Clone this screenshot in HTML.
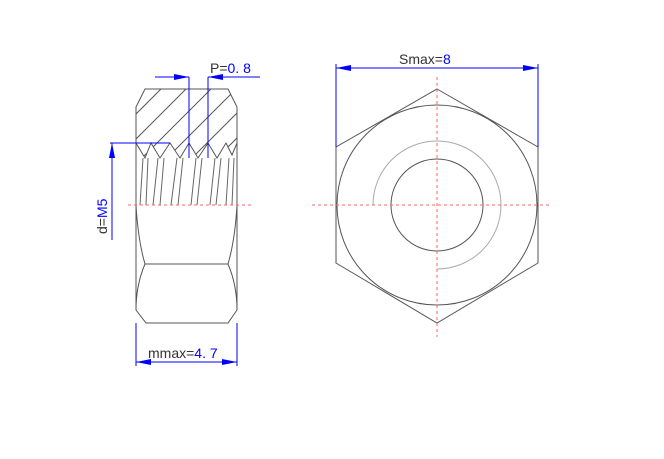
<!DOCTYPE html>
<html><head><style>body{margin:0;background:#fff}svg{display:block}</style></head><body>
<svg width="664" height="459" viewBox="0 0 664 459" xmlns="http://www.w3.org/2000/svg" font-family="Liberation Sans, sans-serif">
<defs>
<clipPath id="hc"><polygon points="145,89 228,89 237,107 237,143 232,155 226,143 217,158 208,143 198,158 189,143 180,158 170,143 160,158 151,143 145,158 136,143 136,107"/></clipPath>
<marker id="ar" viewBox="0 0 15 6" refX="15" refY="3" markerWidth="15" markerHeight="6" orient="auto-start-reverse" markerUnits="userSpaceOnUse"><path d="M0,0L15,3L0,6z" fill="#00f"/></marker>
</defs>
<g fill="none" stroke="#555" stroke-width="1">
<path d="M136,107 L145,89 L228,89 L237,107 L237,310 L228,323 L146,323 L136,310 Z"/>
<path d="M145,264 L228,264"/>
<path d="M136,205 Q138,240 145,264 Q136,285 136,310"/>
<path d="M237,205 Q235,240 228,264 Q237,285 237,310"/>
<g clip-path="url(#hc)" stroke="#555">
<path d="M120,130 L175,75 M120,155 L200,75 M135,165 L225,75 M160,165 L250,75 M185,165 L275,75 M210,165 L300,75"/>
</g>
<path d="M136,143 L145,158 L151,143 L160,158 L170,143 L180,158 L189,143 L198,158 L208,143 L217,158 L226,143 L232,155 L237,143"/>
<path d="M143,158 L140,205 M148,158 L146,205 M158,158 L153,205 M164,158 L160,205 M177,158 L171,205 M183,158 L178,205 M196,158 L191,205 M202,158 L197,205 M215,158 L210,205 M221,158 L216,205 M229,158 L226,205 M234,158 L232,205" stroke="#666"/>
<polygon points="437,89 538,147 538,263 437,323 336,263 336,147"/>
<circle cx="437" cy="205" r="100"/>
<circle cx="437" cy="205" r="46"/>
<path d="M373,205 A64,64 0 1 1 437,269" stroke="#aaa"/>
</g>
<g stroke="#f66" stroke-width="1" stroke-dasharray="3,3" fill="none">
<path d="M128,205 L252,205"/>
<path d="M312,205 L552,205 M437,77 L437,337"/>
</g>
<g stroke="#00f" stroke-width="1" fill="none">
<path d="M189,77 L189,158 M208,77 L208,158"/>
<path d="M155,77 L189,77" marker-end="url(#ar)"/>
<path d="M260,77 L208,77" marker-end="url(#ar)"/>
<path d="M110,143 L170,143"/>
<path d="M112,240 L112,143" marker-end="url(#ar)"/>
<path d="M136,323 L136,366 M237,323 L237,366"/>
<path d="M136,362 L237,362" marker-start="url(#ar)" marker-end="url(#ar)"/>
<path d="M336,147 L336,64 M538,147 L538,64"/>
<path d="M336,68 L538,68" marker-start="url(#ar)" marker-end="url(#ar)"/>
</g>
<g font-size="14">
<text x="210" y="73" fill="#333">P=<tspan fill="#00f">0. 8</tspan></text>
<text x="148" y="358" fill="#333">mmax=<tspan fill="#00f">4. 7</tspan></text>
<text x="399" y="64" fill="#333">Smax=<tspan fill="#00f">8</tspan></text>
<text transform="translate(107,234) rotate(-90)" fill="#333">d=<tspan fill="#00f">M5</tspan></text>
</g>
</svg>
</body></html>
